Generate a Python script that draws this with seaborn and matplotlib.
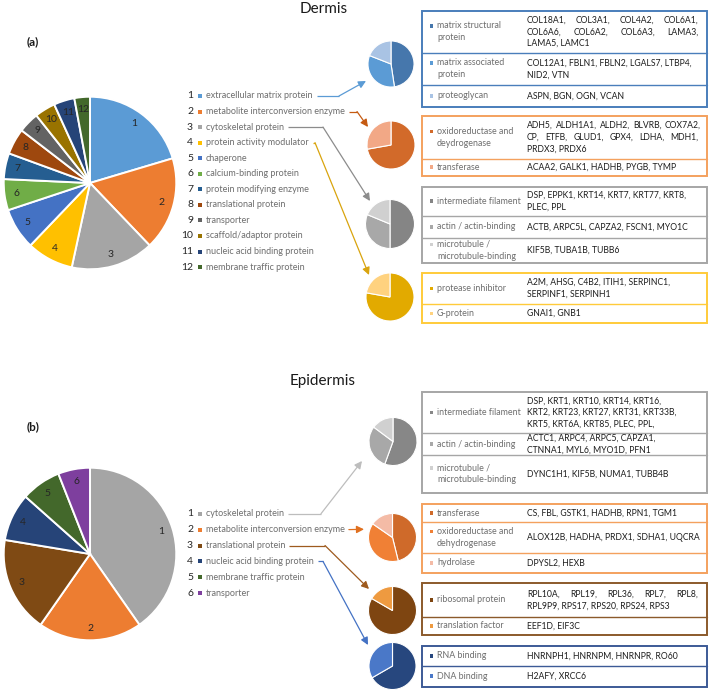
import matplotlib
matplotlib.use("Agg")
import numpy as np
import pandas as pd
import seaborn as sns
import matplotlib.pyplot as plt
from matplotlib.patches import Rectangle

sns.set_theme(style="white")
plt.rcParams['font.family'] = ['Lato', 'DejaVu Sans']

W, H = 709, 690

# ------------------------------------------------------------------ data
dermis_categories = ["extracellular matrix protein", "metabolite interconversion enzyme",
                     "cytoskeletal protein", "protein activity modulator", "chaperone",
                     "calcium-binding protein", "protein modifying enzyme", "translational protein",
                     "transporter", "scaffold/adaptor protein", "nucleic acid binding protein",
                     "membrane traffic protein"]
dermis_counts = [21, 18, 16, 9, 8, 6, 5, 5, 4, 4, 4, 3]

epidermis_categories = ["cytoskeletal protein", "metabolite interconversion enzyme",
                        "translational protein", "nucleic acid binding protein",
                        "membrane traffic protein", "transporter"]
epidermis_counts = [27, 13, 12, 6, 5, 4]

# Dermis sub-categories
d_ecm_labels = [["matrix structural", "protein"], ["matrix associated", "protein"], ["proteoglycan"]]
d_ecm_counts = [10, 7, 4]
d_ecm_genes = [["COL18A1, COL3A1, COL4A2, COL6A1,", "COL6A6, COL6A2, COL6A3, LAMA3,", "LAMA5, LAMC1"],
               ["COL12A1, FBLN1, FBLN2, LGALS7, LTBP4,", "NID2, VTN"],
               ["ASPN, BGN, OGN, VCAN"]]

d_met_labels = [["oxidoreductase and", "deydrogenase"], ["transferase"]]
d_met_counts = [13, 5]
d_met_genes = [["ADH5, ALDH1A1, ALDH2, BLVRB, COX7A2,", "CP, ETFB, GLUD1, GPX4, LDHA, MDH1,", "PRDX3, PRDX6"],
               ["ACAA2, GALK1, HADHB, PYGB, TYMP"]]

d_cyt_labels = [["intermediate filament"], ["actin / actin-binding"], ["microtubule /", "microtubule-binding"]]
d_cyt_counts = [8, 5, 3]
d_cyt_genes = [["DSP, EPPK1, KRT14, KRT7, KRT77, KRT8,", "PLEC, PPL"],
               ["ACTB, ARPC5L, CAPZA2, FSCN1, MYO1C"],
               ["KIF5B, TUBA1B, TUBB6"]]

d_pam_labels = [["protease inhibitor"], ["G-protein"]]
d_pam_counts = [7, 2]
d_pam_genes = [["A2M, AHSG, C4B2, ITIH1, SERPINC1,", "SERPINF1, SERPINH1"],
               ["GNAI1, GNB1"]]

# Epidermis sub-categories
e_cyt_labels = [["intermediate filament"], ["actin / actin-binding"], ["microtubule /", "microtubule-binding"]]
e_cyt_counts = [15, 8, 4]
e_cyt_genes = [["DSP, KRT1, KRT10, KRT14, KRT16,", "KRT2, KRT23, KRT27, KRT31, KRT33B,", "KRT5, KRT6A, KRT85, PLEC, PPL,"],
               ["ACTC1, ARPC4, ARPC5, CAPZA1,", "CTNNA1, MYL6, MYO1D, PFN1"],
               ["DYNC1H1, KIF5B, NUMA1, TUBB4B"]]

e_met_labels = [["transferase"], ["oxidoreductase and", "dehydrogenase"], ["hydrolase"]]
e_met_counts = [6, 5, 2]
e_met_genes = [["CS, FBL, GSTK1, HADHB, RPN1, TGM1"],
               ["ALOX12B, HADHA, PRDX1, SDHA1, UQCRA"],
               ["DPYSL2, HEXB"]]

e_tra_labels = [["ribosomal protein"], ["translation factor"]]
e_tra_counts = [10, 2]
e_tra_genes = [["RPL10A, RPL19, RPL36, RPL7, RPL8,", "RPL9P9, RPS17, RPS20, RPS24, RPS3"],
               ["EEF1D, EIF3C"]]

e_nuc_labels = [["RNA binding"], ["DNA binding"]]
e_nuc_counts = [4, 2]
e_nuc_genes = [["HNRNPH1, HNRNPM, HNRNPR, RO60"], ["H2AFY, XRCC6"]]

# ------------------------------------------------------------------ styles / layout
dermis_colors = ["#5B9BD5", "#ED7D31", "#A5A5A5", "#FFC000", "#4472C4", "#70AD47",
                 "#255E91", "#9E480E", "#636363", "#997300", "#264478", "#43682B"]
epidermis_colors = ["#A5A5A5", "#ED7D31", "#7F4A14", "#264478", "#43682B", "#7E3F9E"]

LABEL_GRAY = "#6E6E6E"
GENE_BLACK = "#1E1E1E"
BOX_L, BOX_R = 422, 707
CAT_X, GENE_X, JUST_R = 437, 527, 698
LINE = 11.8
FS_GENE, FS_CAT, FS_LEG, FS_NUM = 6.25, 6.4, 6.45, 7.5

fig = plt.figure(figsize=(W / 100, H / 100), dpi=100)
ax = fig.add_axes([0, 0, 1, 1])
ax.set_xlim(0, W)
ax.set_ylim(H, 0)
ax.axis('off')
renderer = fig.canvas.get_renderer()


def pie_axes(cx, cy, r):
    return fig.add_axes([(cx - r) / W, 1 - (cy + r) / H, 2 * r / W, 2 * r / H])


def draw_pie(cx, cy, r, counts, colors, numbered=False, lw=1.4):
    a = pie_axes(cx, cy, r)
    labels = [str(i + 1) for i in range(len(counts))] if numbered else None
    res = a.pie(counts, colors=colors, startangle=90, counterclock=False, radius=1,
                labels=labels, labeldistance=0.86,
                textprops=dict(fontsize=7.5, color="#262626"),
                wedgeprops=dict(edgecolor="white", linewidth=lw))
    if numbered:
        for t in res[1]:
            t.set_ha('center')
            t.set_va('center')
    a.set_xlim(-1.02, 1.02)
    a.set_ylim(-1.02, 1.02)
    a.axis('off')


def text_width(s, **kw):
    t = ax.text(0, 0, s, **kw)
    w = t.get_window_extent(renderer=renderer).width
    t.remove()
    return w


def legend(cats, colors, y0, step):
    ends = []
    for i, (c, col) in enumerate(zip(cats, colors)):
        y = y0 + i * step
        ax.text(193, y, str(i + 1), ha='right', va='center', fontsize=FS_NUM, color="#262626")
        ax.add_patch(Rectangle((198, y - 2), 4, 4, color=col, lw=0))
        t = ax.text(206, y, c, ha='left', va='center', fontsize=FS_LEG, color=LABEL_GRAY)
        bb = t.get_window_extent(renderer=renderer)
        ends.append((bb.x1 + 4, y))
    return ends


def connector(start, corner_x, tip, color):
    sx, sy = start
    if corner_x is not None:
        ax.plot([sx, corner_x], [sy, sy], color=color, lw=0.9, solid_capstyle='butt')
        base = (corner_x, sy)
    else:
        base = (sx, sy)
    ax.annotate('', xy=tip, xytext=base,
                arrowprops=dict(arrowstyle='-|>', color=color, lw=0.9,
                                mutation_scale=11, shrinkA=0, shrinkB=0))


def put_line(s, y, justify):
    kw = dict(fontsize=FS_GENE, color=GENE_BLACK, va='center')
    if not justify:
        ax.text(GENE_X, y, s, ha='left', **kw)
        return
    words = s.split(' ')
    widths = [text_width(wd, **kw) for wd in words]
    gap = max((JUST_R - GENE_X - sum(widths)) / (len(words) - 1), 3)
    x = GENE_X
    for wd, wdt in zip(words, widths):
        ax.text(x, y, wd, ha='left', **kw)
        x += wdt + gap


def box(bounds, border, labels, genes, colors, justify=()):
    top, bottom = bounds[0], bounds[-1]
    ax.add_patch(Rectangle((BOX_L, top), BOX_R - BOX_L, bottom - top, fill=False,
                           edgecolor=border, lw=1.4))
    for y in bounds[1:-1]:
        ax.plot([BOX_L, BOX_R], [y, y], color=border, lw=1.0)
    for r, (lab, gl, col) in enumerate(zip(labels, genes, colors)):
        cy = (bounds[r] + bounds[r + 1]) / 2
        n = len(lab)
        for i, s in enumerate(lab):
            y = cy + (i - (n - 1) / 2) * LINE
            ax.text(CAT_X, y, s, ha='left', va='center', fontsize=FS_CAT, color=LABEL_GRAY)
            if i == 0:
                ax.add_patch(Rectangle((429.5, y - 1.8), 3.6, 3.6, color=col, lw=0))
        m = len(gl)
        for j, s in enumerate(gl):
            y = cy + (j - (m - 1) / 2) * LINE
            put_line(s, y, (r, j) in justify)


# ------------------------------------------------------------------ titles
ax.text(324, 9, "Dermis", ha='center', va='center', fontsize=11, color="#1A1A1A")
ax.text(323, 381, "Epidermis", ha='center', va='center', fontsize=11, color="#1A1A1A")
ax.text(33, 42, "(a)", ha='center', va='center', fontsize=8.5, fontweight='bold', color="#1A1A1A")
ax.text(33, 427, "(b)", ha='center', va='center', fontsize=8.5, fontweight='bold', color="#1A1A1A")

# ------------------------------------------------------------------ Dermis
draw_pie(90, 183, 88, dermis_counts, dermis_colors, numbered=True)
d_ends = legend(dermis_categories, dermis_colors, 96, 15.55)

d_ecm_colors = ["#4677AC", "#5B9BD5", "#A9C3E4"]
d_met_colors = ["#D26A2A", "#F2A886"]
d_cyt_colors = ["#858585", "#A8A8A8", "#D0D0D0"]
d_pam_colors = ["#E2AA00", "#FFD27F"]

draw_pie(391, 64, 23.5, d_ecm_counts, d_ecm_colors, lw=0.8)
draw_pie(391, 145, 24.5, d_met_counts, d_met_colors, lw=0.8)
draw_pie(390, 224, 25, d_cyt_counts, d_cyt_colors, lw=0.8)
draw_pie(390, 297, 24.5, d_pam_counts, d_pam_colors, lw=0.8)

connector(d_ends[0], 339, (366, 81), "#5B9BD5")
connector(d_ends[1], 357, (368, 127), "#C55A11")
connector(d_ends[2], 323, (370, 201), "#8C8C8C")
connector(d_ends[3], 315, (369, 275), "#D9A40E")

box([11, 52.7, 85, 106.7], "#4A7EBB", d_ecm_labels, d_ecm_genes, d_ecm_colors,
    justify={(0, 0), (0, 1)})
box([115.5, 159, 175.5], "#F4A15E", d_met_labels, d_met_genes, d_met_colors,
    justify={(0, 0), (0, 1)})
box([186.5, 216, 237.7, 263], "#A6A6A6", d_cyt_labels, d_cyt_genes, d_cyt_colors)
box([272.7, 304, 323], "#FFCB3A", d_pam_labels, d_pam_genes, d_pam_colors)

# ------------------------------------------------------------------ Epidermis
draw_pie(90, 554, 88, epidermis_counts, epidermis_colors, numbered=True)
e_ends = legend(epidermis_categories, epidermis_colors, 513.7, 15.9)

e_cyt_colors = ["#878787", "#A8A8A8", "#D0D0D0"]
e_met_colors = ["#CF6A2A", "#F08035", "#F4BBA6"]
e_tra_colors = ["#7E4511", "#EE9A40"]
e_nuc_colors = ["#27477E", "#4A78C8"]

draw_pie(393, 441.5, 24.5, e_cyt_counts, e_cyt_colors, lw=0.8)
draw_pie(392.5, 537.5, 24.5, e_met_counts, e_met_colors, lw=0.8)
draw_pie(392.5, 610.5, 24.5, e_tra_counts, e_tra_colors, lw=0.8)
draw_pie(392.5, 666, 24, e_nuc_counts, e_nuc_colors, lw=0.8)

connector(e_ends[0], 321, (362, 461), "#BDBDBD")
connector(e_ends[1], None, (364, 529.3), "#E0701F")
connector(e_ends[2], 325, (369, 589), "#9E5A1E")
connector(e_ends[3], 323, (368, 645), "#4472C4")

box([391.7, 433.3, 455, 493], "#A6A6A6", e_cyt_labels, e_cyt_genes, e_cyt_colors)
box([504, 522, 553, 572.7], "#F4A15E", e_met_labels, e_met_genes, e_met_colors)
box([583, 616.7, 635], "#8B5A2B", e_tra_labels, e_tra_genes, e_tra_colors,
    justify={(0, 0)})
box([645.7, 665.7, 686.7], "#3C5A96", e_nuc_labels, e_nuc_genes, e_nuc_colors)

fig.savefig("out.png", dpi=100, facecolor="white")
